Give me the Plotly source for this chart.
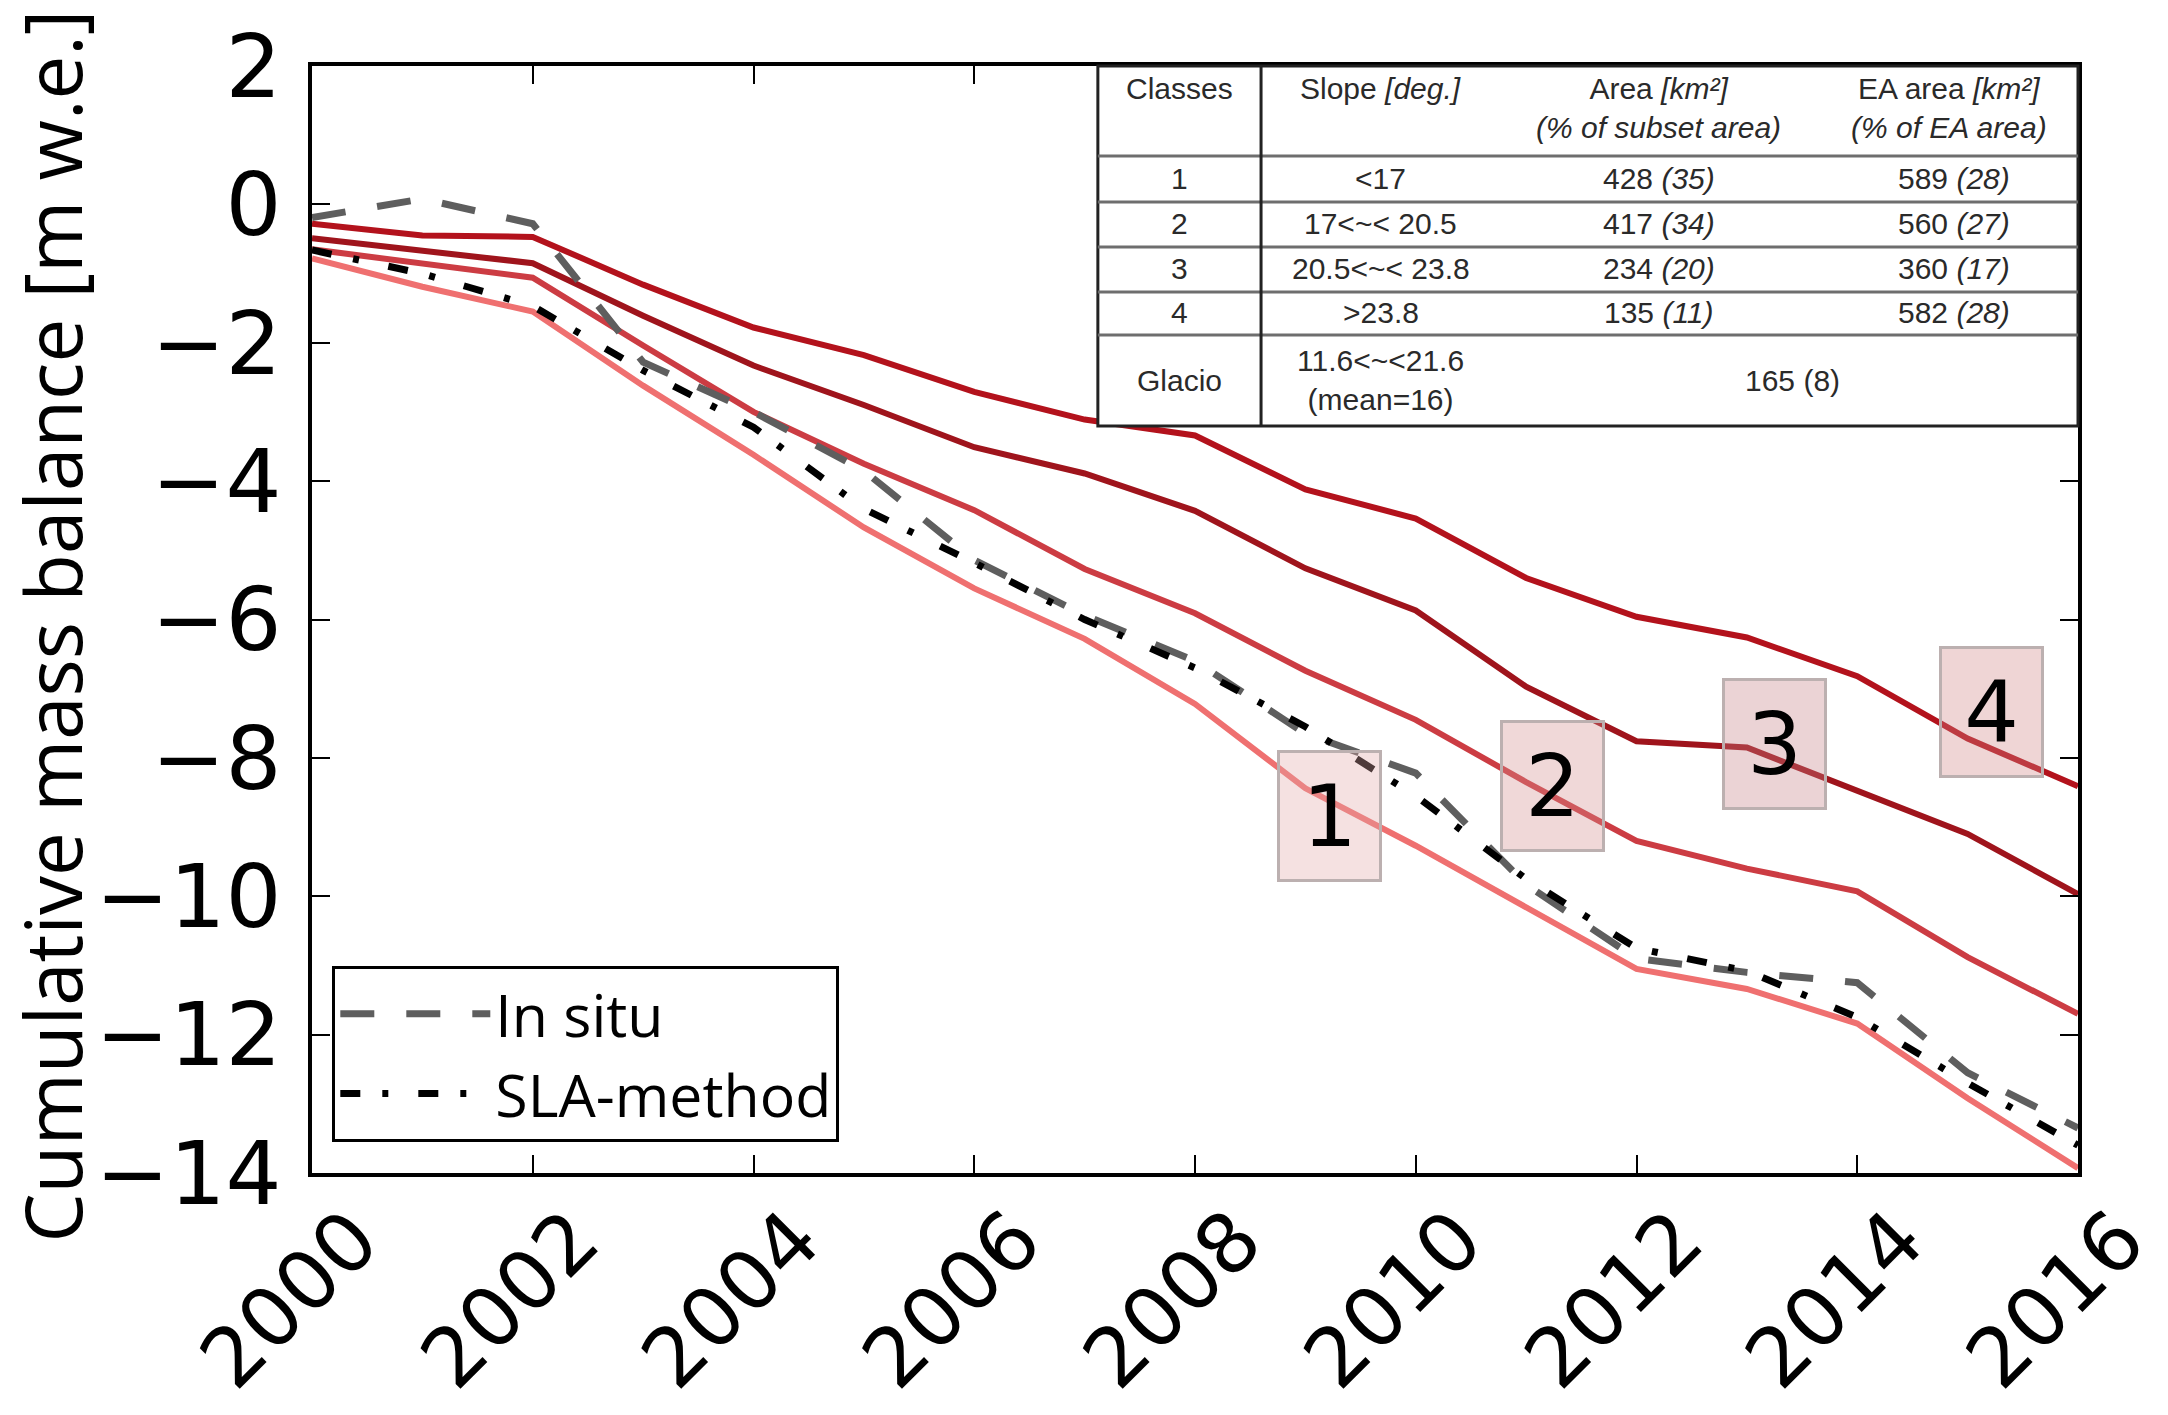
import plotly.graph_objects as go

years = list(range(2000, 2017))
class1 = [-0.78, -1.19, -1.55, -2.62, -3.62, -4.67, -5.55, -6.28, -7.22, -8.44, -9.27, -10.16, -11.05, -11.34, -11.84, -12.92, -13.93]
class2 = [-0.65, -0.86, -1.06, -2.04, -3.00, -3.75, -4.42, -5.27, -5.91, -6.74, -7.45, -8.35, -9.20, -9.60, -9.93, -10.88, -11.70]
class3 = [-0.49, -0.66, -0.85, -1.61, -2.33, -2.90, -3.51, -3.89, -4.43, -5.26, -5.87, -6.97, -7.76, -7.85, -8.47, -9.10, -9.97]
class4 = [-0.28, -0.45, -0.47, -1.16, -1.78, -2.18, -2.71, -3.11, -3.34, -4.12, -4.54, -5.40, -5.96, -6.26, -6.82, -7.72, -8.41]
in_situ = [-0.19, 0.08, -0.28, -2.28, -3.00, -3.85, -5.14, -5.94, -6.60, -7.65, -8.22, -9.83, -10.90, -11.10, -11.25, -12.55, -13.35]
sla = [-0.66, -1.00, -1.47, -2.40, -3.22, -4.40, -5.18, -6.00, -6.70, -7.55, -8.55, -9.75, -10.75, -11.08, -11.75, -12.70, -13.60]

class_labels = ["1", "2", "3", "4"]
label_x = [2009.22, 2011.24, 2013.25, 2015.22]
label_y = [-8.84, -8.40, -7.80, -7.34]

x_ticks = list(range(2000, 2017, 2))
y_ticks = list(range(-14, 3, 2))
y_title = "Cumulative mass balance [m w.e.]"

table_header = ["Classes", "Slope <i>[deg.]</i>",
                "Area <i>[km²]</i><br><i>(% of subset area)</i>",
                "EA area <i>[km²]</i><br><i>(% of EA area)</i>"]
table_classes = ["1", "2", "3", "4", "Glacio"]
table_slope = ["&lt;17", "17&lt;~&lt; 20.5", "20.5&lt;~&lt; 23.8", "&gt;23.8", "11.6&lt;~&lt;21.6<br>(mean=16)"]
table_area = ["428 <i>(35)</i>", "417 <i>(34)</i>", "234 <i>(20)</i>", "135 <i>(11)</i>"]
table_ea = ["589 <i>(28)</i>", "560 <i>(27)</i>", "360 <i>(17)</i>", "582 <i>(28)</i>"]
table_glacio_area = "165 (8)"

red_colors = ["#ef7070", "#cc3c43", "#9f141c", "#b3121c"]
box_fills = ["rgba(226,169,169,0.35)", "rgba(212,144,144,0.35)",
             "rgba(198,129,135,0.35)", "rgba(209,135,135,0.35)"]

fig = go.Figure()
for vals, col in zip([class1, class2, class3, class4], red_colors):
    fig.add_trace(go.Scatter(x=years, y=vals, mode="lines", showlegend=False,
                             line=dict(color=col, width=6)))
fig.add_trace(go.Scatter(x=years, y=in_situ, mode="lines", name="In situ",
                         line=dict(color="#5e5e5e", width=7, dash="34px,32px")))
fig.add_trace(go.Scatter(x=years, y=sla, mode="lines", name="SLA-method",
                         line=dict(color="#000000", width=7, dash="20px,22px,6px,30px")))

# class number boxes
for lab, xx, yy, fc in zip(class_labels, label_x, label_y, box_fills):
    fig.add_annotation(x=xx, y=yy, xref="x", yref="y", text=lab, showarrow=False,
                       xanchor="center", yanchor="middle",
                       width=97, height=124, bgcolor=fc, bordercolor="#bcb0b0",
                       borderwidth=3,
                       font=dict(family="DejaVu Sans", size=86, color="black"))

# table (paper coordinates)
tx0, tx1, ty0, ty1 = 0.445, 1.0, 0.6748, 1.0
fig.add_shape(type="rect", xref="paper", yref="paper", x0=tx0, x1=tx1, y0=ty0, y1=ty1,
              fillcolor="white", line=dict(color="#222222", width=3), layer="above")
for yl in [0.9187, 0.8772, 0.8365, 0.7958, 0.757]:
    fig.add_shape(type="line", xref="paper", yref="paper", x0=tx0, x1=tx1, y0=yl, y1=yl,
                  line=dict(color="#6e6e6e", width=3), layer="above")
fig.add_shape(type="line", xref="paper", yref="paper", x0=0.5374, x1=0.5374, y0=ty0, y1=ty1,
              line=dict(color="#222222", width=3), layer="above")

tfont = dict(family="Liberation Sans", size=30, color="#2a2a2a")
col_x = [0.4915, 0.6053, 0.7627, 0.9270]
header_y = [0.9801, 0.9801, 0.962, 0.962]
for txt, xx, yy in zip(table_header, col_x, header_y):
    fig.add_annotation(x=xx, y=yy, xref="paper", yref="paper", text=txt, showarrow=False,
                       font=tfont, xanchor="center", yanchor="middle")
row_y = [0.8988, 0.8580, 0.8170, 0.7770, 0.7160]
for i, yy in enumerate(row_y):
    cells = [(col_x[0], table_classes[i]), (col_x[1], table_slope[i])]
    if i < 4:
        cells += [(col_x[2], table_area[i]), (col_x[3] + 0.003, table_ea[i])]
    else:
        cells += [(0.8386, table_glacio_area)]
    for xx, txt in cells:
        fig.add_annotation(x=xx, y=yy, xref="paper", yref="paper", text=txt,
                           showarrow=False, font=tfont, xanchor="center", yanchor="middle")

# y-axis title (placed as rotated text so it can sit close to the page edge)
fig.add_annotation(x=-0.1470, y=0.494, xref="paper", yref="paper", text=y_title,
                   textangle=-90, showarrow=False, xanchor="center", yanchor="middle",
                   font=dict(family="Open Sans", size=78, color="black"))

axis_common = dict(showline=True, linewidth=4, linecolor="black", mirror="ticks",
                   ticks="inside", ticklen=18, tickwidth=2, tickcolor="black",
                   showgrid=False, zeroline=False)

fig.update_xaxes(range=[2000, 2016], tickvals=x_ticks, ticktext=[str(v) for v in x_ticks],
                 tickangle=-45, ticklabelshift=42, ticklabelstandoff=-18,
                 ticklabeloverflow="allow",
                 tickfont=dict(family="DejaVu Sans", size=82, color="black"), **axis_common)
fig.update_yaxes(range=[-14, 2], tickvals=y_ticks, ticklabelstandoff=9,
                 tickfont=dict(family="DejaVu Sans", size=88, color="black"),
                 **axis_common)

fig.update_layout(
    width=2168, height=1415,
    margin=dict(l=304, r=98, t=58, b=250, autoexpand=False),
    plot_bgcolor="white", paper_bgcolor="white",
    legend=dict(x=0.0115, y=0.028, xanchor="left", yanchor="bottom",
                bgcolor="white", bordercolor="black", borderwidth=3,
                font=dict(family="Open Sans", size=59, color="black"),
                itemwidth=150, tracegroupgap=0),
)

fig.write_html("out.html")
